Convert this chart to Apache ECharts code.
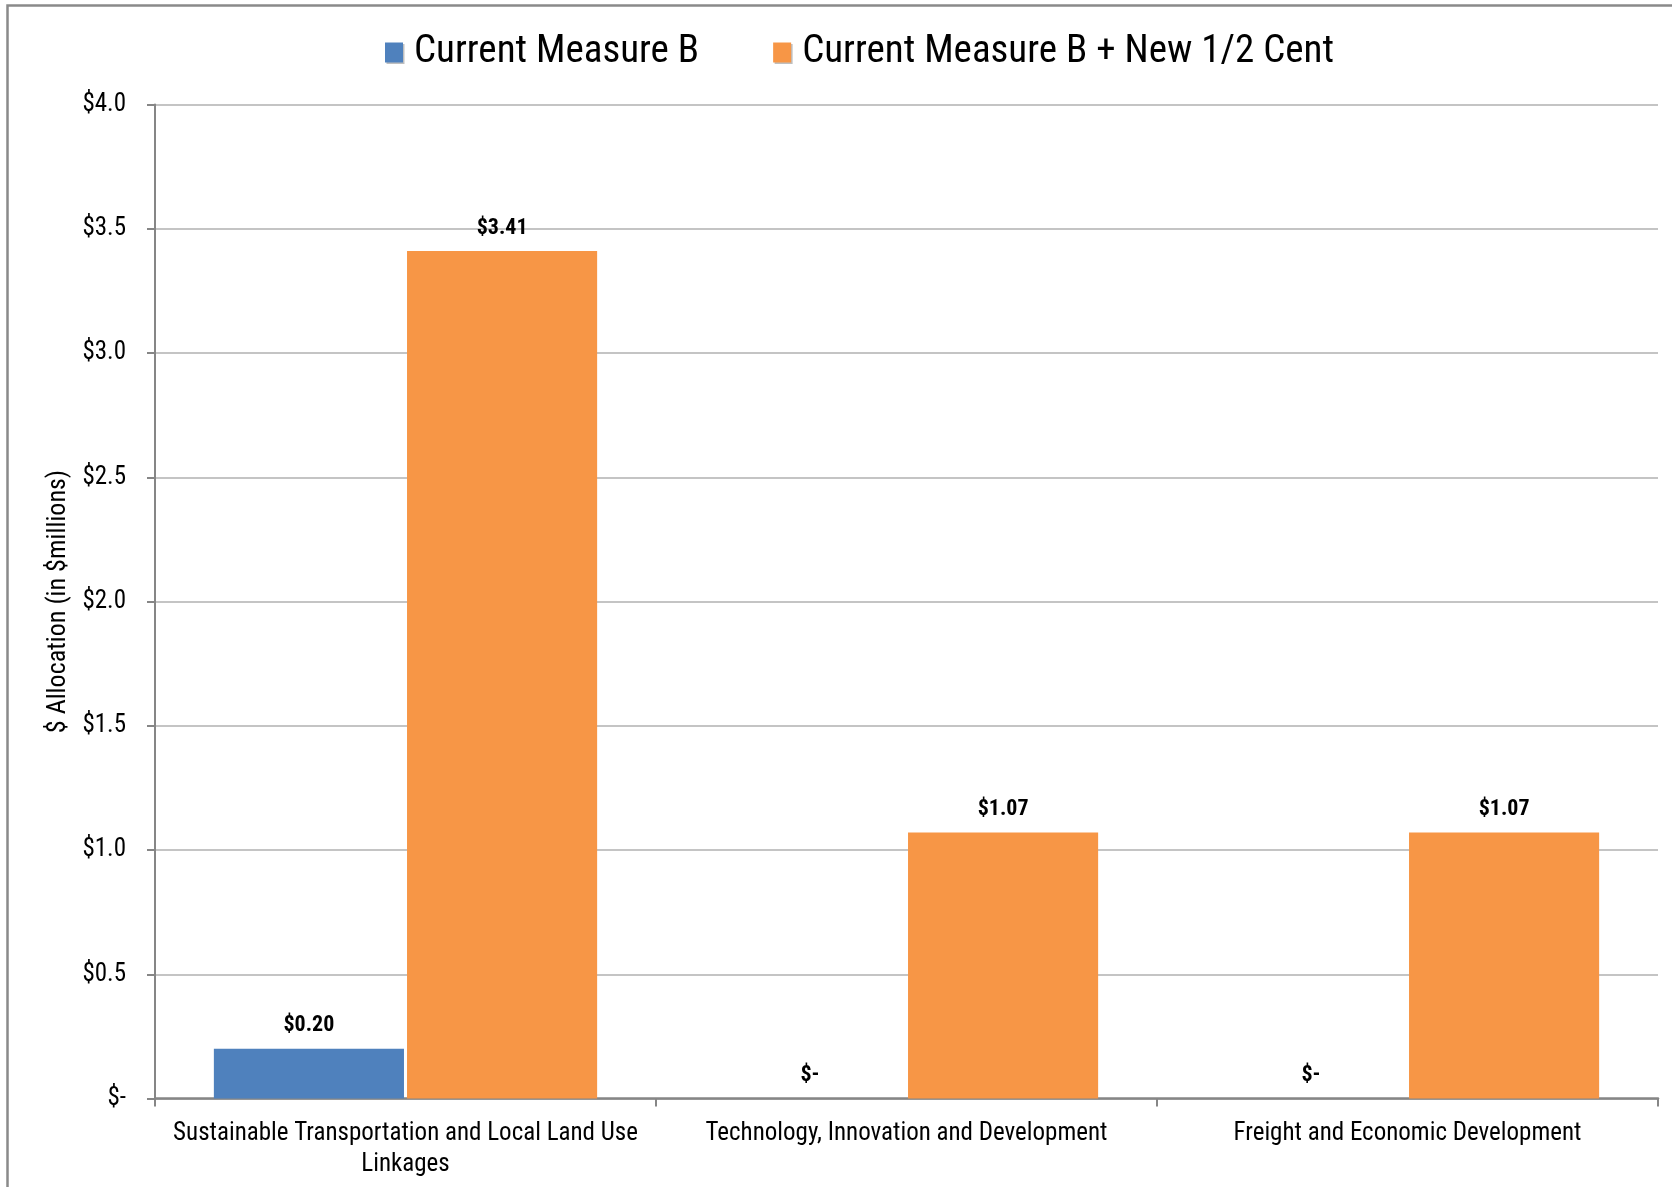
<!DOCTYPE html>
<html>
<head>
<meta charset="utf-8">
<script src="https://cdn.jsdelivr.net/npm/echarts@6/dist/echarts.min.js"></script>
<style>
  html, body { margin: 0; padding: 0; background: #fff; }
  #chart { width: 1672px; height: 1187px; }
</style>
</head>
<body>
<div id="chart"></div>
<script>
// Program areas along the x axis
const categories = [
  'Sustainable Transportation and Local Land Use\nLinkages',
  'Technology, Innovation and Development',
  'Freight and Economic Development'
];
// Annual allocation, $ millions
const currentMeasureB = [0.20, 0, 0];
const withNewHalfCent = [3.41, 1.07, 1.07];
const seriesNames = ['Current Measure B', 'Current Measure B + New 1/2 Cent'];

const FONT = '"Roboto Condensed", "Liberation Sans Narrow", "Arial Narrow", Roboto, sans-serif';

function money(v, digits) {
  return v === 0 ? '$-' : '$' + v.toFixed(digits);
}

const labelStyle = {
  show: true,
  position: 'top',
  distance: 12,
  fontFamily: FONT,
  fontSize: 22,
  fontWeight: 'bold',
  color: '#000',
  formatter: p => money(p.value, 2)
};

const chart = echarts.init(document.getElementById('chart'), null, { renderer: 'canvas' });
chart.setOption({
  animation: false,
  backgroundColor: '#fff',
  textStyle: { fontFamily: FONT },
  graphic: [{
    type: 'rect',
    shape: { x: 7.5, y: 5.5, width: 1700, height: 1300 },
    style: { fill: 'none', stroke: '#8a8a8a', lineWidth: 2.5 },
    silent: true
  }],
  legend: {
    top: 28,
    left: 380,
    itemWidth: 18,
    itemHeight: 20,
    itemGap: 74,
    itemStyle: {
      shadowColor: 'rgba(0,0,0,0.25)',
      shadowOffsetX: 1.5,
      shadowOffsetY: 1.5
    },
    textStyle: { fontFamily: FONT, fontSize: 39, color: '#000', padding: [0, 0, 0, 6] },
    data: seriesNames.map(n => ({ name: n, icon: 'rect' }))
  },
  grid: { left: 155, right: 14, top: 104.5, bottom: 88.5 },
  xAxis: {
    type: 'category',
    data: categories,
    boundaryGap: true,
    axisLine: { lineStyle: { color: '#868686', width: 2.5 } },
    axisTick: { show: true, length: 8, lineStyle: { color: '#868686', width: 2 } },
    axisLabel: {
      margin: 20,
      fontFamily: FONT,
      fontSize: 25,
      lineHeight: 31,
      color: '#000',
      interval: 0
    }
  },
  yAxis: {
    type: 'value',
    min: 0,
    max: 4,
    interval: 0.5,
    name: '$ Allocation (in $millions)',
    nameLocation: 'middle',
    nameGap: 84,
    nameTextStyle: { fontFamily: FONT, fontSize: 26, color: '#000' },
    axisLine: { show: true, lineStyle: { color: '#868686', width: 2 } },
    axisTick: { show: true, length: 8, lineStyle: { color: '#868686', width: 2 } },
    axisLabel: {
      margin: 29,
      fontFamily: FONT,
      fontSize: 25,
      color: '#000',
      formatter: v => money(v, 1)
    },
    splitLine: { lineStyle: { color: '#c4c4c4', width: 2 } }
  },
  series: [
    {
      name: seriesNames[0],
      type: 'bar',
      data: currentMeasureB,
      barGap: '1.6%',
      barCategoryGap: '23.5%',
      itemStyle: { color: '#4F81BD' },
      label: labelStyle
    },
    {
      name: seriesNames[1],
      type: 'bar',
      data: withNewHalfCent,
      itemStyle: { color: '#F79646' },
      label: labelStyle
    }
  ]
});
</script>
</body>
</html>
